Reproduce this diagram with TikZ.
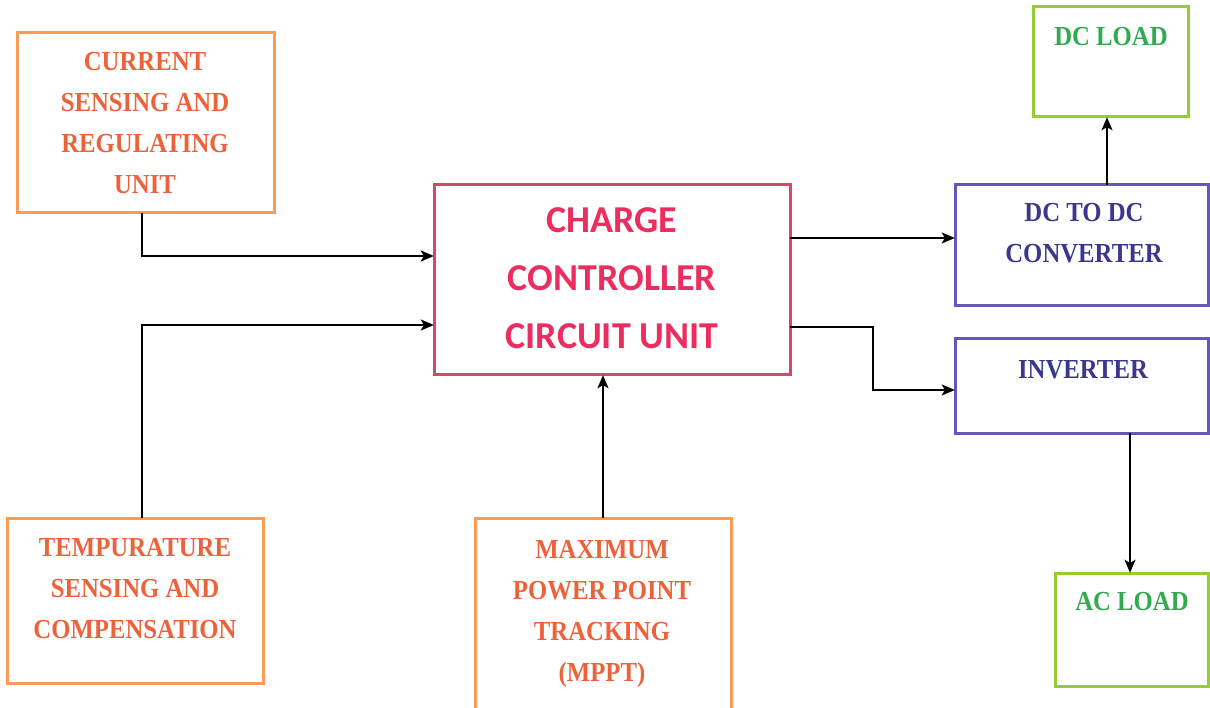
\documentclass[tikz,border=0pt]{standalone}
\usepackage{fontspec}
\setmainfont{Liberation Serif}
\newfontfamily\cam{Liberation Serif}[FakeStretch=0.9]
\newfontfamily\calib{Carlito}
\usetikzlibrary{arrows.meta}
\definecolor{orB}{RGB}{247,155,85}
\definecolor{orT}{RGB}{236,98,58}
\definecolor{pkB}{RGB}{214,72,104}
\definecolor{pkT}{RGB}{236,45,95}
\definecolor{grB}{RGB}{150,205,50}
\definecolor{grT}{RGB}{50,170,80}
\definecolor{puB}{RGB}{102,86,186}
\definecolor{puT}{RGB}{58,56,140}
\tikzset{
  box/.style={draw, line width=3pt, inner sep=0pt},
  lbl/.style={align=center, inner sep=0pt, anchor=north, font=\cam\bfseries\fontsize{27.5}{41}\selectfont},
  big/.style={align=center, inner sep=0pt, anchor=north, font=\calib\bfseries\fontsize{38}{58}\selectfont, text=pkT},
  conn/.style={line width=1.6pt, -{Stealth[length=13pt,width=11pt,inset=3pt]}}
}
\begin{document}
\begin{tikzpicture}[x=1pt,y=-1pt]
\useasboundingbox (0,0) rectangle (1210,708);
% boxes
\draw[box,orB] (17,33) rectangle (274,213);
\node[inner sep=0pt,minimum width=257pt,minimum height=180pt] (cur) at (145.5,123) {};
\draw[box,pkB] (434,185) rectangle (790,375);
\node[inner sep=0pt,minimum width=356pt,minimum height=190pt] (cc) at (612,280) {};
\draw[box,grB] (1033,7) rectangle (1188,117);
\node[inner sep=0pt,minimum width=155pt,minimum height=110pt] (dcl) at (1110.5,62) {};
\draw[box,puB] (955,185) rectangle (1208,306);
\node[inner sep=0pt,minimum width=253pt,minimum height=121pt] (dcdc) at (1081.5,245.5) {};
\draw[box,puB] (955,339) rectangle (1208,433);
\node[inner sep=0pt,minimum width=253pt,minimum height=94pt] (inv) at (1081.5,386) {};
\draw[box,orB] (7,518) rectangle (263,683);
\node[inner sep=0pt,minimum width=256pt,minimum height=165pt] (tmp) at (135,600.5) {};
\draw[box,orB] (475,518) rectangle (731,720);
\node[inner sep=0pt,minimum width=256pt,minimum height=202pt] (mppt) at (603,619) {};
\draw[box,grB] (1055,573) rectangle (1208,686);
\node[inner sep=0pt,minimum width=153pt,minimum height=113pt] (acl) at (1131.5,629.5) {};
% texts
\node[lbl,text=orT] (tcur) at (145,52) {CURRENT\\SENSING AND\\REGULATING\\UNIT};
\node[big] (tcc) at (612,207) {CHARGE\\CONTROLLER\\CIRCUIT UNIT};
\node[lbl,text=grT] (tdcl) at (1111,27) {DC LOAD};
\node[lbl,text=puT] (tdcdc) at (1084,203) {DC TO DC\\CONVERTER};
\node[lbl,text=puT] (tinv) at (1083,360) {INVERTER};
\node[lbl,text=orT] (ttmp) at (135,538) {TEMPURATURE\\SENSING AND\\COMPENSATION};
\node[lbl,text=orT] (tmppt) at (602,540) {MAXIMUM\\POWER POINT\\TRACKING\\(MPPT)};
\node[lbl,text=grT] (tacl) at (1132,592) {AC LOAD};
% connectors
\draw[conn] (cur.south -| 142,0) |- (cc.west |- 0,256);
\draw[conn] (tmp.north -| 142,0) |- (cc.west |- 0,325);
\draw[conn] (mppt.north -| 603,0) -- (cc.south -| 603,0);
\draw[conn] (cc.east |- 0,238) -- (dcdc.west |- 0,238);
\draw[conn] (cc.east |- 0,327) -| (873,358) |- (inv.west |- 0,390);
\draw[conn] (dcdc.north -| 1107,0) -- (dcl.south -| 1107,0);
\draw[conn] (inv.south -| 1130,0) -- (acl.north -| 1130,0);
\end{tikzpicture}
\end{document}
